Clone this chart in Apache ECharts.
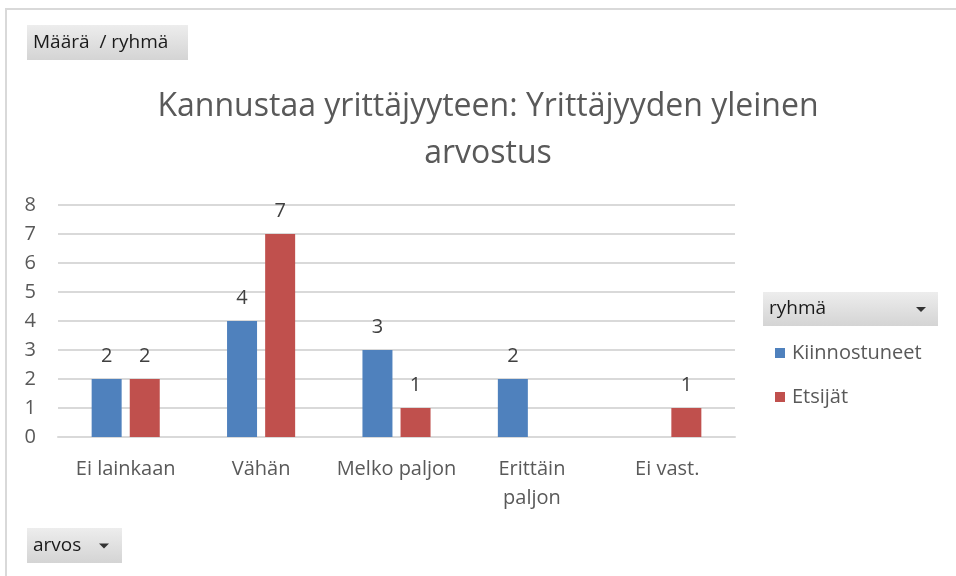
<!DOCTYPE html>
<html>
<head>
<meta charset="utf-8">
<script src="https://cdn.jsdelivr.net/npm/echarts@6/dist/echarts.min.js"></script>
<style>html,body{margin:0;padding:0;background:#fff}#c{width:956px;height:576px}</style>
</head>
<body>
<div id="c"></div>
<script>
var categories = ['Ei lainkaan', 'Vähän', 'Melko paljon', 'Erittäin\npaljon', 'Ei vast.'];
var seriesNames = ['Kiinnostuneet', 'Etsijät'];
var kiinnostuneet = [2, 4, 3, 2, null];
var etsijat = [2, 7, 1, null, 1];
var yTicks = [0, 1, 2, 3, 4, 5, 6, 7, 8];

var FONT = '"Open Sans", Lato, sans-serif';
var chart = echarts.init(document.getElementById('c'));

function button(x, y, w, h, text, arrow) {
  var els = [{
    type: 'rect', shape: {x: x, y: y, width: w, height: h},
    style: {fill: new echarts.graphic.LinearGradient(0, 0, 0, 1, [{offset: 0, color: '#ededed'}, {offset: 1, color: '#d4d4d4'}])}
  }, {
    type: 'text', x: x + 6, y: y + h / 2,
    style: {text: text, font: '19px ' + FONT, fill: '#1a1a1a', verticalAlign: 'middle'}
  }];
  if (arrow !== undefined) {
    els.push({type: 'polygon', shape: {points: [[arrow - 5, y + h / 2 - 2], [arrow + 5, y + h / 2 - 2], [arrow, y + h / 2 + 3]]}, style: {fill: '#333'}});
  }
  return els;
}

var graphics = [
  {type: 'rect', shape: {x: 5, y: 8, width: 951, height: 2}, style: {fill: '#d9d9d9'}},
  {type: 'rect', shape: {x: 5, y: 8, width: 2, height: 568}, style: {fill: '#d9d9d9'}}
].concat(button(27, 25, 161, 35, 'Määrä  / ryhmä'))
 .concat(button(763, 292, 175, 34, 'ryhmä', 921))
 .concat(button(27, 528, 95, 35, 'arvos', 104));

chart.setOption({
  animation: false,
  title: {
    text: 'Kannustaa yrittäjyyteen: Yrittäjyyden yleinen\narvostus',
    left: 483, textAlign: 'center', top: 78,
    textStyle: {fontFamily: FONT, fontSize: 32, fontWeight: 'normal', color: '#595959', lineHeight: 47}
  },
  legend: {
    data: seriesNames, orient: 'vertical', left: 770, top: 338,
    itemWidth: 10, itemHeight: 10, itemGap: 24, icon: 'rect',
    textStyle: {fontFamily: FONT, fontSize: 20, color: '#595959', padding: [0, 0, 0, 2]}
  },
  grid: {left: 58, right: 221, top: 205, bottom: 139, containLabel: false},
  xAxis: {
    type: 'category', data: categories,
    axisLine: {show: true, lineStyle: {color: '#d9d9d9', width: 2}},
    axisTick: {show: false},
    axisLabel: {fontFamily: FONT, fontSize: 20, color: '#595959', margin: 18, lineHeight: 29, interval: 0}
  },
  yAxis: {
    type: 'value', min: 0, max: 8, interval: 1,
    axisLine: {show: false}, axisTick: {show: false},
    axisLabel: {fontFamily: FONT, fontSize: 20, color: '#595959', margin: 22},
    splitLine: {lineStyle: {color: '#d9d9d9', width: 2}}
  },
  series: [{
    name: seriesNames[0], type: 'bar', data: kiinnostuneet, barWidth: 30, barGap: '27%',
    itemStyle: {color: '#4f81bd'},
    label: {show: true, position: 'top', distance: 13, fontFamily: FONT, fontSize: 20, color: '#404040'}
  }, {
    name: seriesNames[1], type: 'bar', data: etsijat, barWidth: 30,
    itemStyle: {color: '#c0504d'},
    label: {show: true, position: 'top', distance: 13, fontFamily: FONT, fontSize: 20, color: '#404040'}
  }],
  graphic: graphics
});
</script>
</body>
</html>
